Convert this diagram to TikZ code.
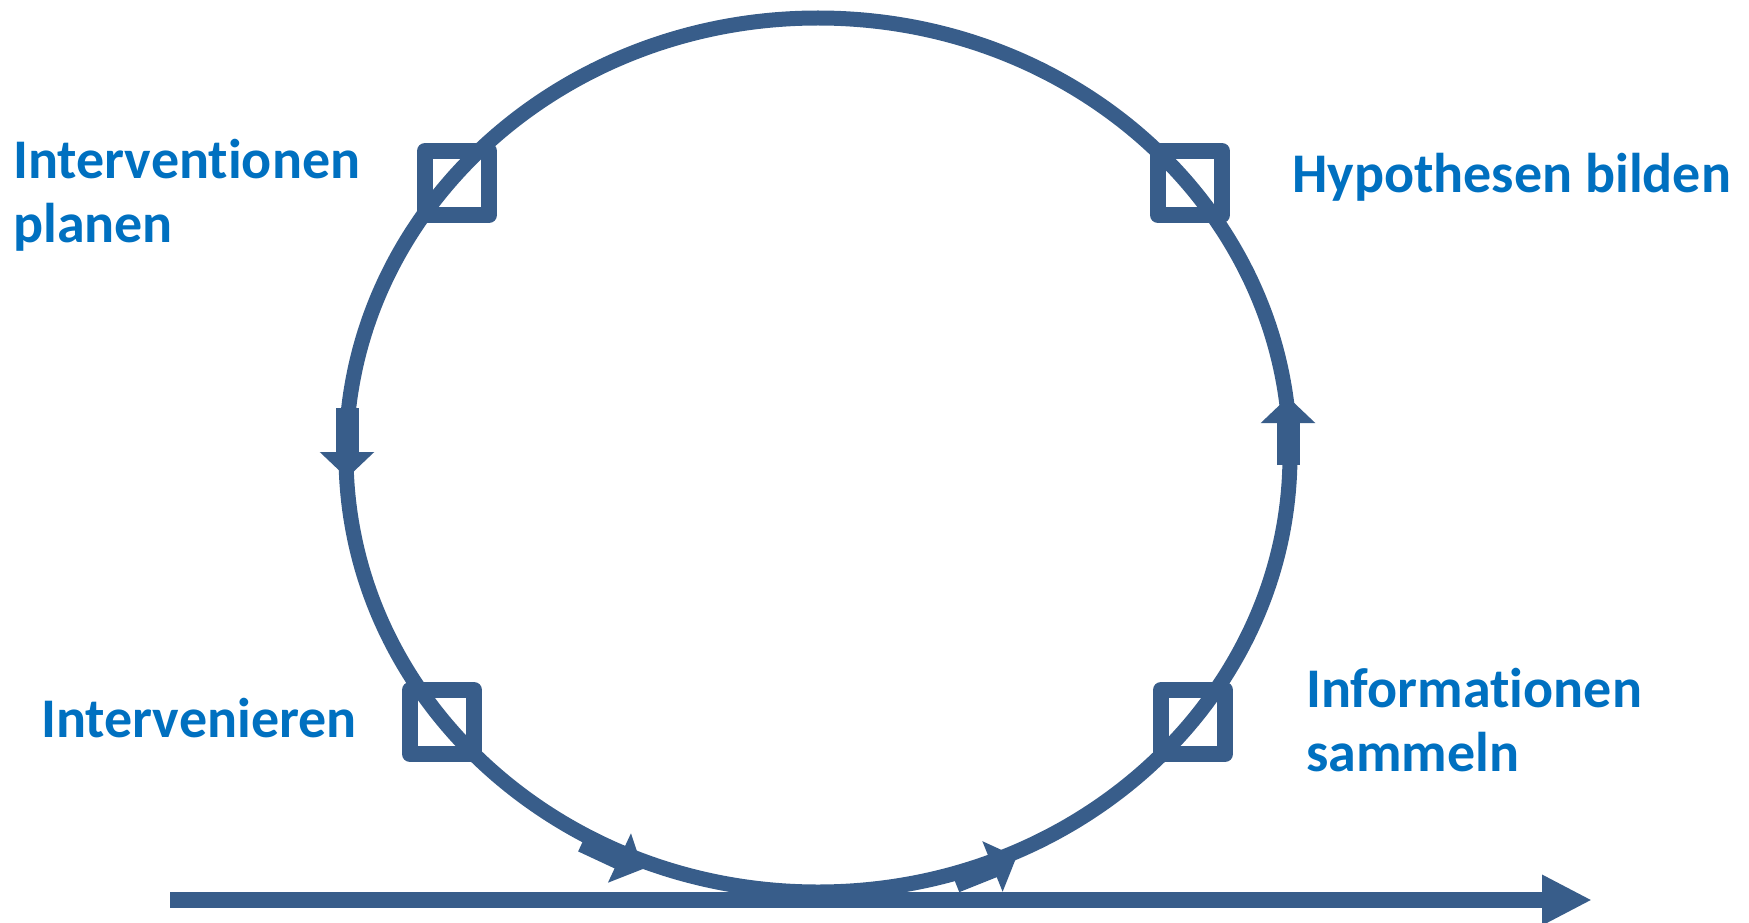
\documentclass[tikz,border=0pt]{standalone}
\usepackage{fontspec}
\setmainfont{Carlito}[Ligatures={NoCommon}]
\usetikzlibrary{arrows.meta}
\definecolor{cyc}{HTML}{385D8A}
\definecolor{lab}{HTML}{0070C0}
\tikzset{
  ring/.style={draw=cyc, line width=15pt},
  stepsq/.style={draw=cyc, line width=16pt, line join=round, minimum size=64pt, inner sep=0pt, shape=rectangle},
  flowarrow/.style={draw=cyc, line width=23pt, -{Triangle[width=53pt,length=26pt]}},
  timeline/.style={draw=cyc, line width=16pt, -{Triangle[width=47pt,length=50pt]}},
  labeltext/.style={text=lab, font=\fontsize{56}{64}\selectfont\bfseries, inner sep=0pt, align=left, anchor=base west}
}
\begin{document}
\begin{tikzpicture}[x=1pt,y=-1pt]
\useasboundingbox (0,0) rectangle (1749,923);
% time line
\coordinate (tl0) at (170,900);
\coordinate (tl1) at (1592,900);
\draw[timeline] (tl0) -- (tl1);
% cycle
\coordinate (ctr) at (818,455);
\draw[ring] (ctr) ellipse [x radius=472, y radius=437];
% squares
\node[stepsq] (sqplan) at (457,183) {};
\node[stepsq] (sqhyp) at (1190,183) {};
\node[stepsq] (sqint) at (442,722) {};
\node[stepsq] (sqinfo) at (1193,722) {};
% arrows on the cycle
\coordinate (al1) at (347,408);
\coordinate (al2) at (347,478);
\draw[flowarrow] (al1) -- (al2);
\coordinate (ar1) at (1288,465);
\coordinate (ar2) at (1288,397);
\draw[flowarrow] (ar1) -- (ar2);
\coordinate (ab1) at (583,841);
\coordinate (ab2) at (643,869);
\draw[flowarrow] (ab1) -- (ab2);
\coordinate (ac1) at (955,881.5);
\coordinate (ac2) at (1016.6,856.8);
\draw[flowarrow] (ac1) -- (ac2);
% labels (base anchor = baseline of last line)
\node[labeltext] (lplan) at (13,242) {Interventionen\\planen};
\node[labeltext] (lhyp) at (1292,193) {Hypothesen bilden};
\node[labeltext] (lint) at (41,737) {Intervenieren};
\node[labeltext] (linfo) at (1306,771) {Informationen\\sammeln};
\end{tikzpicture}
\end{document}
